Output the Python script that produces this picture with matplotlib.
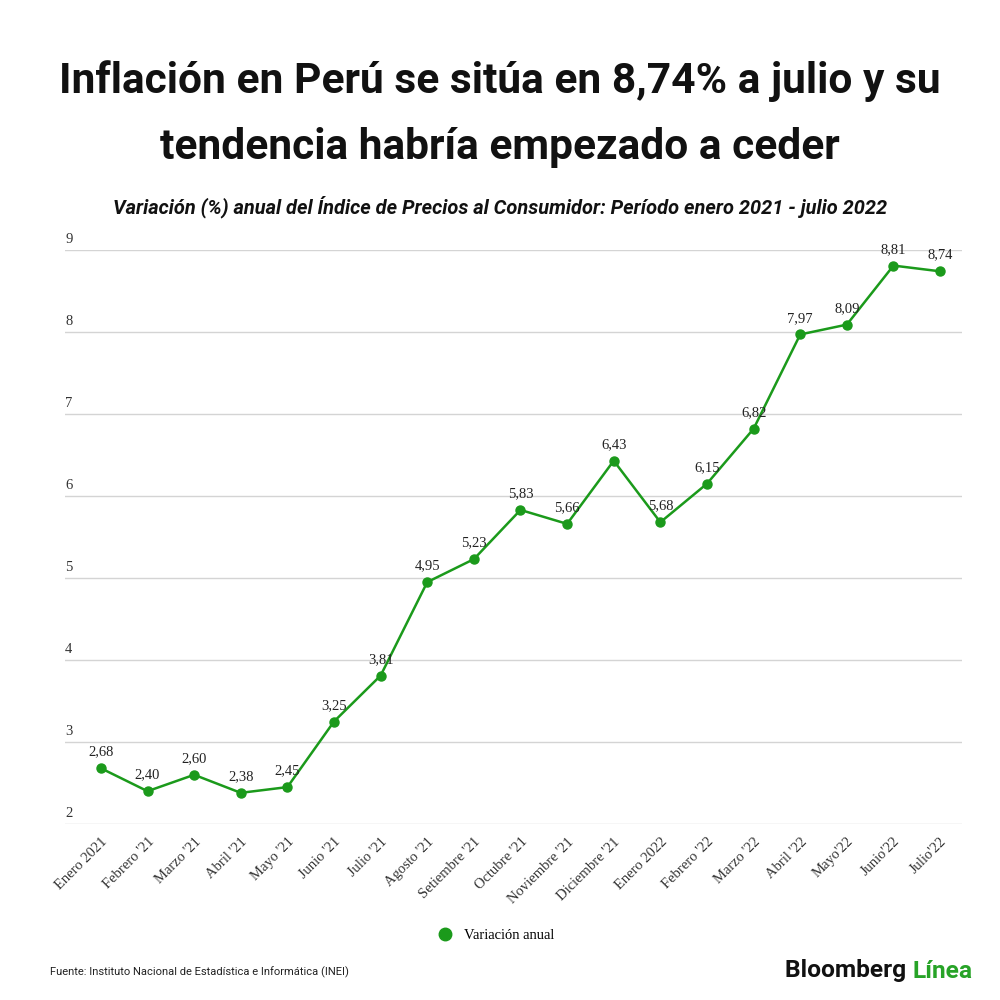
import matplotlib.pyplot as plt

# ============================================
# DATA
# ============================================

months = [
    "Enero 2021", "Febrero '21", "Marzo '21", "Abril '21", "Mayo '21",
    "Junio '21", "Julio '21", "Agosto '21", "Setiembre '21", "Octubre '21",
    "Noviembre '21", "Diciembre '21", "Enero 2022", "Febrero '22",
    "Marzo '22", "Abril '22", "Mayo'22", "Junio'22", "Julio'22",
]
inflation = [
    2.68, 2.40, 2.60, 2.38, 2.45, 3.25, 3.81, 4.95, 5.23, 5.83,
    5.66, 6.43, 5.68, 6.15, 6.82, 7.97, 8.09, 8.81, 8.74,
]
y_ticks = [2, 3, 4, 5, 6, 7, 8, 9]

GREEN = "#1b9a1b"
SERIF = ["Liberation Serif", "DejaVu Serif"]
SANS = ["Roboto", "Liberation Sans", "DejaVu Sans"]

# ============================================
# FIGURE
# ============================================

fig = plt.figure(figsize=(10, 10), dpi=100)
ax = fig.add_axes([0.065, 0.176, 0.897, 0.574])

x = list(range(len(months)))
ax.plot(x, inflation, color=GREEN, lw=1.8, marker="o", ms=6.5,
        markerfacecolor=GREEN, markeredgecolor=GREEN, clip_on=False, zorder=3)

for xi, v in zip(x, inflation):
    ax.annotate(f"{v:.2f}".replace(".", ","), (xi, v), xytext=(0, 7),
                textcoords="offset points", ha="center", va="bottom",
                fontsize=10.5, family=SERIF, color="#222222", zorder=4)

ax.set_xlim(-0.77, 18.47)
ax.set_ylim(2, 9)
ax.set_yticks(y_ticks)
ax.yaxis.grid(True, color="#d4d4d4", lw=1)
ax.tick_params(axis="y", length=0, labelleft=False)
for t in y_ticks:
    ax.text(0.0, t + 0.05, str(t), transform=ax.get_yaxis_transform(),
            ha="left", va="bottom", fontsize=10.5, family=SERIF,
            color="#333333")

ax.set_xticks(x)
ax.set_xticklabels(months, rotation=45, ha="right", rotation_mode="anchor",
                   fontsize=10.5, family=SERIF, color="#333333")
ax.tick_params(axis="x", length=0, pad=8)
for s in ax.spines.values():
    s.set_visible(False)
ax.set_axisbelow(True)

# legend
ax.plot([], [], "o", color=GREEN, ms=9, label="Variación anual")
fig.legend(*ax.get_legend_handles_labels(), loc="center",
           bbox_to_anchor=(0.492, 0.065), frameon=False,
           prop={"family": SERIF, "size": 10.5}, handletextpad=0.3)

# ============================================
# TITLES AND FOOTER
# ============================================

def fit_width(txt, target_px):
    # shrink font so the text spans roughly target_px
    fig.canvas.draw()
    w = txt.get_window_extent().width
    txt.set_fontsize(txt.get_fontsize() * target_px / w)

title1 = fig.text(0.5, 0.919, "Inflación en Perú se sitúa en 8,74% a julio y su",
                  ha="center", va="center", fontsize=30, fontweight="bold",
                  family=SANS, color="#111111")
fit_width(title1, 880)
title2 = fig.text(0.5, 0.853, "tendencia habría empezado a ceder",
                  ha="center", va="center", fontsize=title1.get_fontsize(),
                  fontweight="bold", family=SANS, color="#111111")
sub = fig.text(0.5, 0.793,
               "Variación (%) anual del Índice de Precios al Consumidor: "
               "Período enero 2021 - julio 2022",
               ha="center", va="center", fontsize=14, fontweight="bold",
               style="italic", family=SANS, color="#111111")
fit_width(sub, 775)

src = fig.text(0.05, 0.028,
               "Fuente: Instituto Nacional de Estadística e Informática (INEI)",
               ha="left", va="center", fontsize=9, family=SANS, color="#222222")
fit_width(src, 300)

t1 = fig.text(0.785, 0.029, "Bloomberg ", ha="left", va="center",
              fontsize=17, fontweight="bold", family=SANS, color="#111111")
t2 = fig.text(0.9, 0.029, "Línea", ha="left", va="center",
              fontsize=17, fontweight="bold", family=SANS, color="#27a327")
fig.canvas.draw()
w_total = t1.get_window_extent().width + t2.get_window_extent().width
scale = 187 / w_total
t1.set_fontsize(17 * scale)
t2.set_fontsize(17 * scale)
fig.canvas.draw()
t2.set_x(t1.get_window_extent().x1 / fig.bbox.width)

fig.savefig("out.png", dpi=100, facecolor="white")
